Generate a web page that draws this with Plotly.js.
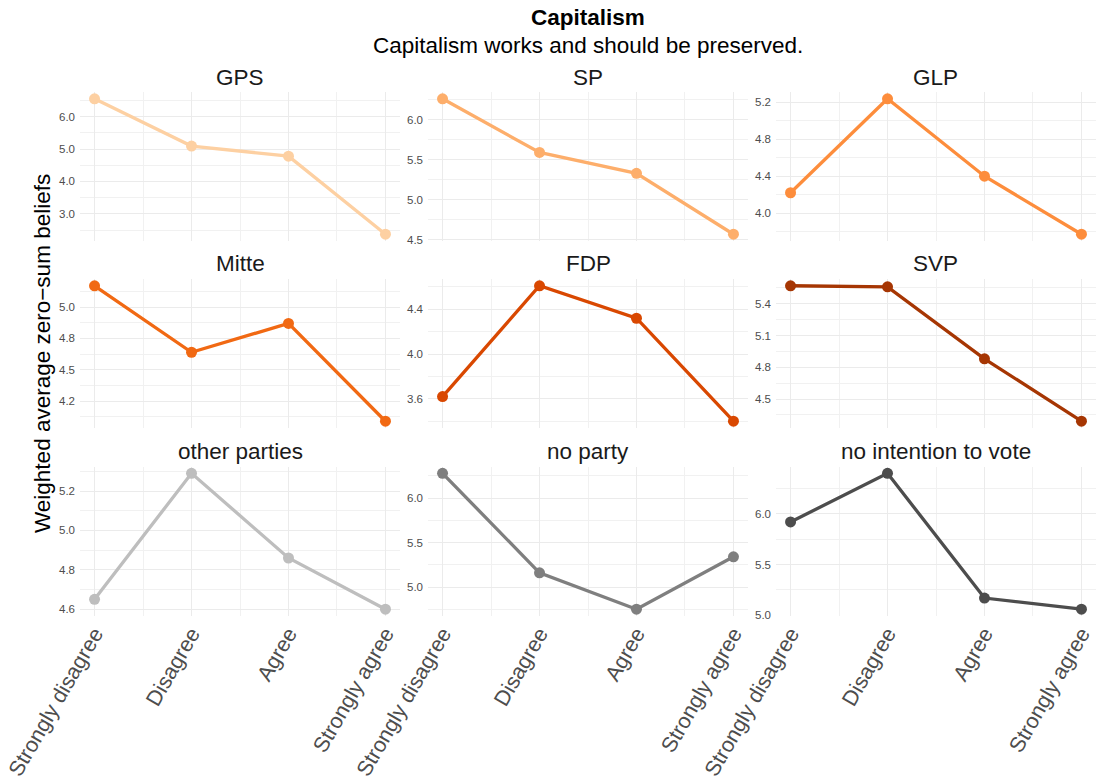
<!DOCTYPE html>
<html>
<head>
<meta charset="utf-8">
<script src="https://cdn.plot.ly/plotly-3.0.1.min.js"></script>
<style>
  html, body { margin: 0; padding: 0; background: #ffffff; }
  #chart { width: 1098px; height: 783px; }
</style>
</head>
<body>
<div id="chart"></div>
<script>
// ---- data ----
const categories = ["Strongly disagree", "Disagree", "Agree", "Strongly agree"];
const parties = ["GPS", "SP", "GLP", "Mitte", "FDP", "SVP", "other parties", "no party", "no intention to vote"];

const gpsValues = [6.55, 5.09, 4.78, 2.37];
const spValues = [6.26, 5.59, 5.33, 4.57];
const glpValues = [4.22, 5.24, 4.40, 3.77];
const mitteValues = [5.17, 4.64, 4.87, 4.09];
const fdpValues = [3.62, 4.61, 4.32, 3.40];
const svpValues = [5.57, 5.56, 4.88, 4.29];
const otherValues = [4.65, 5.29, 4.86, 4.60];
const noPartyValues = [6.28, 5.16, 4.75, 5.34];
const noVoteValues = [5.92, 6.40, 5.17, 5.06];

const gpsTicks = [3.0, 4.0, 5.0, 6.0];
const gpsTickText = ["3.0", "4.0", "5.0", "6.0"];
const spTicks = [4.5, 5.0, 5.5, 6.0];
const spTickText = ["4.5", "5.0", "5.5", "6.0"];
const glpTicks = [4.0, 4.4, 4.8, 5.2];
const glpTickText = ["4.0", "4.4", "4.8", "5.2"];
const mitteTicks = [4.25, 4.5, 4.75, 5.0];
const mitteTickText = ["4.2", "4.5", "4.8", "5.0"];
const fdpTicks = [3.6, 4.0, 4.4];
const fdpTickText = ["3.6", "4.0", "4.4"];
const svpTicks = [4.5, 4.8, 5.1, 5.4];
const svpTickText = ["4.5", "4.8", "5.1", "5.4"];
const otherTicks = [4.6, 4.8, 5.0, 5.2];
const otherTickText = ["4.6", "4.8", "5.0", "5.2"];
const noPartyTicks = [5.0, 5.5, 6.0];
const noPartyTickText = ["5.0", "5.5", "6.0"];
const noVoteTicks = [5.0, 5.5, 6.0];
const noVoteTickText = ["5.0", "5.5", "6.0"];

const title = "Capitalism";
const subtitle = "Capitalism works and should be preserved.";
const yTitle = "Weighted average zero\u2212sum beliefs";

// ---- styling ----
const colors = ["#fdd0a2", "#fdae6b", "#fd8d3c", "#f16913", "#d94801", "#a63603", "#bebebe", "#7f7f7f", "#4d4d4d"];
const seriesValues = [gpsValues, spValues, glpValues, mitteValues, fdpValues, svpValues, otherValues, noPartyValues, noVoteValues];
const tickSets = [gpsTicks, spTicks, glpTicks, mitteTicks, fdpTicks, svpTicks, otherTicks, noPartyTicks, noVoteTicks];
const tickTexts = [gpsTickText, spTickText, glpTickText, mitteTickText, fdpTickText, svpTickText, otherTickText, noPartyTickText, noVoteTickText];

const W = 1098, H = 783;
const colPx = [[80, 400], [428, 748], [776, 1096]];
const rowPx = [[92, 241], [279, 428], [466.5, 616]];
const FONT = "Liberation Sans, Arial, Helvetica, sans-serif";
const grid = "#ebebeb";
const minorGrid = "#f1f1f1";
const BIG = 22.5;

const xIdx = categories.map((c, i) => i);
const traces = [];
const annotations = [];
const layout = {
  width: W, height: H,
  margin: {l: 0, r: 0, t: 0, b: 0},
  paper_bgcolor: "#ffffff",
  plot_bgcolor: "#ffffff",
  showlegend: false,
  font: {family: FONT, color: "#000000"}
};

parties.forEach((p, k) => {
  const r = Math.floor(k / 3), c = k % 3;
  const suf = k === 0 ? "" : String(k + 1);
  const vals = seriesValues[k];
  traces.push({
    type: "scatter", mode: "lines+markers",
    x: xIdx, y: vals,
    xaxis: "x" + suf, yaxis: "y" + suf,
    line: {color: colors[k], width: 3.3},
    marker: {color: colors[k], size: 11},
    hoverinfo: "skip"
  });
  const mn = Math.min(...vals), mx = Math.max(...vals);
  const pad = (mx - mn) * 0.05;
  const tv = tickSets[k];
  const step = tv[1] - tv[0];
  layout["xaxis" + suf] = {
    domain: [colPx[c][0] / W, colPx[c][1] / W],
    anchor: "y" + suf,
    range: [-0.15, 3.15],
    tickmode: "array", tickvals: xIdx, ticktext: categories,
    showticklabels: r === 2,
    tickangle: -60,
    tickfont: {family: FONT, size: 21.5, color: "#4d4d4d"},
    showgrid: true, gridcolor: grid, gridwidth: 1,
    minor: {tickmode: "linear", tick0: 0.5, dtick: 1, showgrid: true, gridcolor: minorGrid, gridwidth: 1},
    zeroline: false, showline: false, ticks: "",
    fixedrange: true
  };
  layout["yaxis" + suf] = {
    domain: [1 - rowPx[r][1] / H, 1 - rowPx[r][0] / H],
    anchor: "x" + suf,
    range: [mn - pad, mx + pad],
    tickmode: "array", tickvals: tv, ticktext: tickTexts[k],
    tickfont: {family: FONT, size: 11.5, color: "#4d4d4d"},
    ticklabelstandoff: 4,
    showgrid: true, gridcolor: grid, gridwidth: 1,
    minor: {tickmode: "linear", tick0: tv[0] - step / 2, dtick: step, showgrid: true, gridcolor: minorGrid, gridwidth: 1},
    zeroline: false, showline: false, ticks: "",
    fixedrange: true
  };
  annotations.push({
    text: p, xref: "paper", yref: "paper",
    x: (colPx[c][0] + colPx[c][1]) / 2 / W,
    y: 1 - (rowPx[r][0] - 15) / H,
    xanchor: "center", yanchor: "middle", showarrow: false,
    font: {family: FONT, size: BIG, color: "#1a1a1a"}
  });
});

annotations.push({
  text: "<b>" + title + "</b>", xref: "paper", yref: "paper",
  x: 588 / W, y: 1 - 18 / H, xanchor: "center", yanchor: "middle", showarrow: false,
  font: {family: FONT, size: BIG, color: "#000000"}
});
annotations.push({
  text: subtitle, xref: "paper", yref: "paper",
  x: 588 / W, y: 1 - 45 / H, xanchor: "center", yanchor: "middle", showarrow: false,
  font: {family: FONT, size: BIG, color: "#000000"}
});
annotations.push({
  text: yTitle, xref: "paper", yref: "paper",
  x: 42 / W, y: 1 - 354 / H, xanchor: "center", yanchor: "middle", showarrow: false,
  textangle: -90,
  font: {family: FONT, size: BIG, color: "#000000"}
});
layout.annotations = annotations;

Plotly.newPlot("chart", traces, layout, {displayModeBar: false, staticPlot: true});
</script>
</body>
</html>
